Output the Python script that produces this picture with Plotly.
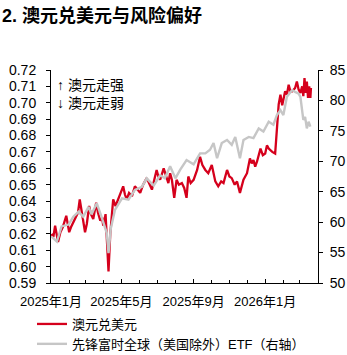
import plotly.graph_objects as go

# AUD/USD (left axis)
aud_dates = [
    "2025-01-02", "2025-01-05", "2025-01-08", "2025-01-11", "2025-01-13", "2025-01-17",
    "2025-01-21", "2025-01-27", "2025-01-29", "2025-02-01", "2025-02-04", "2025-02-08",
    "2025-02-12", "2025-02-16", "2025-02-19", "2025-02-22", "2025-02-25", "2025-02-28",
    "2025-03-03", "2025-03-07", "2025-03-10", "2025-03-14", "2025-03-17", "2025-03-19",
    "2025-03-22", "2025-03-26", "2025-03-29", "2025-03-31", "2025-04-04", "2025-04-06",
    "2025-04-09", "2025-04-12", "2025-04-14", "2025-04-17", "2025-04-21", "2025-04-26",
    "2025-04-30", "2025-05-04", "2025-05-07", "2025-05-10", "2025-05-14", "2025-05-19",
    "2025-05-24", "2025-05-28", "2025-06-02", "2025-06-07", "2025-06-13", "2025-06-17",
    "2025-06-22", "2025-06-26", "2025-06-30", "2025-07-03", "2025-07-06", "2025-07-12",
    "2025-07-16", "2025-07-20", "2025-07-23", "2025-07-26", "2025-07-30", "2025-08-03",
    "2025-08-07", "2025-08-12", "2025-08-16", "2025-08-20", "2025-08-23", "2025-08-27",
    "2025-09-01", "2025-09-04", "2025-09-07", "2025-09-12", "2025-09-16", "2025-09-21",
    "2025-09-26", "2025-10-02", "2025-10-05", "2025-10-08", "2025-10-13", "2025-10-18",
    "2025-10-22", "2025-10-28", "2025-11-01", "2025-11-05", "2025-11-10", "2025-11-14",
    "2025-11-19", "2025-11-25", "2025-12-01", "2025-12-06", "2025-12-09", "2025-12-12",
    "2025-12-15", "2025-12-18", "2025-12-24", "2025-12-28", "2026-01-01", "2026-01-04",
    "2026-01-07", "2026-01-13", "2026-01-18", "2026-01-21", "2026-01-24", "2026-01-27",
    "2026-01-30", "2026-02-04", "2026-02-07", "2026-02-10", "2026-02-13", "2026-02-16",
    "2026-02-21", "2026-02-24", "2026-02-27", "2026-03-02", "2026-03-05", "2026-03-07",
    "2026-03-09", "2026-03-11", "2026-03-13", "2026-03-15", "2026-03-17", "2026-03-19",
    "2026-03-20",
]
aud_usd = [
    0.620, 0.618, 0.625, 0.619, 0.615, 0.621,
    0.624, 0.631, 0.627, 0.621, 0.624, 0.627,
    0.629, 0.633, 0.641, 0.634, 0.627, 0.621,
    0.626, 0.637, 0.632, 0.629, 0.635, 0.639,
    0.633, 0.628, 0.630, 0.625, 0.632, 0.615,
    0.597, 0.620, 0.628, 0.641, 0.637, 0.642,
    0.646, 0.649, 0.644, 0.641, 0.645, 0.643,
    0.649, 0.647, 0.645, 0.650, 0.654, 0.651,
    0.647, 0.653, 0.659, 0.655, 0.653, 0.660,
    0.655, 0.651, 0.657, 0.653, 0.642, 0.653,
    0.650, 0.651, 0.648, 0.642, 0.655, 0.651,
    0.653, 0.656, 0.659, 0.667, 0.662, 0.659,
    0.657, 0.662, 0.657, 0.652, 0.649, 0.652,
    0.651, 0.659, 0.655, 0.654, 0.650, 0.652,
    0.645, 0.653, 0.657, 0.666, 0.663, 0.665,
    0.661, 0.664, 0.672, 0.668, 0.669, 0.674,
    0.672, 0.670, 0.669, 0.685, 0.699, 0.705,
    0.6985, 0.707, 0.705, 0.711, 0.707, 0.707,
    0.709, 0.713, 0.708, 0.706, 0.710, 0.704,
    0.715, 0.706, 0.713, 0.703, 0.710, 0.703,
    0.709,
]

# Vanguard FTSE All-World ex-US ETF (right axis)
etf_dates = [
    "2025-01-02", "2025-01-11", "2025-01-19", "2025-01-31", "2025-02-08", "2025-02-17",
    "2025-02-25", "2025-03-06", "2025-03-11", "2025-03-20", "2025-03-28", "2025-04-06",
    "2025-04-09", "2025-04-13", "2025-04-20", "2025-05-02", "2025-05-13", "2025-05-24",
    "2025-06-05", "2025-06-13", "2025-06-25", "2025-07-06", "2025-07-14", "2025-07-23",
    "2025-08-01", "2025-08-09", "2025-08-20", "2025-09-01", "2025-09-12", "2025-09-21",
    "2025-09-29", "2025-10-05", "2025-10-11", "2025-10-19", "2025-10-28", "2025-11-05",
    "2025-11-11", "2025-11-19", "2025-11-25", "2025-12-04", "2025-12-12", "2025-12-21",
    "2025-12-29", "2026-01-07", "2026-01-15", "2026-01-21", "2026-01-27", "2026-02-01",
    "2026-02-07", "2026-02-16", "2026-02-21", "2026-02-27", "2026-03-02", "2026-03-05",
    "2026-03-07", "2026-03-10", "2026-03-13", "2026-03-16", "2026-03-19",
]
etf_price = [
    57.6, 56.8, 59.3, 59.6, 60.9, 61.7,
    60.9, 62.5, 61.3, 63.1, 60.9, 58.2,
    54.9, 59.0, 62.0, 63.9, 63.7, 65.3,
    65.8, 67.2, 66.0, 67.7, 67.2, 69.2,
    67.2, 68.6, 70.2, 69.5, 71.3, 71.3,
    71.9, 73.0, 70.5, 73.0, 73.5, 72.7,
    74.0, 70.5, 73.5, 74.0, 73.8, 75.4,
    74.9, 76.5, 76.0, 77.6, 78.4, 77.6,
    80.6, 81.7, 81.4, 81.1, 80.6, 78.2,
    76.8, 77.3, 75.4, 76.5, 75.7,
]

x_tick_vals = ["2025-01-01", "2025-05-01", "2025-09-01", "2026-01-01"]
x_tick_text = ["2025年1月", "2025年5月", "2025年9月", "2026年1月"]
left_ticks = [0.59, 0.60, 0.61, 0.62, 0.63, 0.64, 0.65, 0.66, 0.67, 0.68, 0.69, 0.70, 0.71, 0.72]
right_ticks = [50, 55, 60, 65, 70, 75, 80, 85]

FONT = "Liberation Sans, Arial, Noto Sans CJK SC, sans-serif"
RED = "#d5001c"
GREY = "#c6c6c6"

PLOT_W = 347 - 51 - 29
PLOT_H = 355 - 70 - 72

fig = go.Figure()
fig.add_trace(go.Scatter(
    x=aud_dates, y=aud_usd, name="澳元兑美元", mode="lines",
    line=dict(color=RED, width=2.3), yaxis="y",
))
fig.add_trace(go.Scatter(
    x=etf_dates, y=etf_price, name="先锋富时全球（美国除外）ETF（右轴）", mode="lines",
    line=dict(color=GREY, width=2.4), yaxis="y2",
))

fig.update_layout(
    width=347, height=355,
    margin=dict(l=51, r=29, t=70, b=72, autoexpand=False),
    paper_bgcolor="white", plot_bgcolor="white",
    font=dict(family=FONT, size=13, color="#000000"),
    showlegend=True,
    legend=dict(
        x=-19 / PLOT_W, y=-26 / PLOT_H, xanchor="left", yanchor="top",
        orientation="v", font=dict(size=13, color="#000000"),
        bgcolor="rgba(0,0,0,0)", itemwidth=30, tracegroupgap=0,
    ),
    xaxis=dict(
        type="date", range=["2025-01-01", "2026-04-01"],
        tickmode="array", tickvals=x_tick_vals, ticktext=x_tick_text,
        ticks="inside", ticklen=4, tickcolor="#000", tickwidth=1,
        minor=dict(dtick="M1", ticks="inside", ticklen=3, tickcolor="#000", tick0="2025-01-01"),
        showline=True, linecolor="#000", linewidth=1,
        showgrid=False, zeroline=False,
        tickfont=dict(size=13), ticklabelstandoff=6,
    ),
    yaxis=dict(
        range=[0.59, 0.72], tickmode="array", tickvals=left_ticks,
        ticktext=[f"{v:.2f}" for v in left_ticks],
        ticks="outside", ticklen=4, tickcolor="#000",
        showline=True, linecolor="#000", linewidth=1,
        showgrid=False, zeroline=False, tickfont=dict(size=14),
        ticklabelstandoff=7,
    ),
    yaxis2=dict(
        range=[50, 85], overlaying="y", side="right",
        tickmode="array", tickvals=right_ticks,
        ticks="outside", ticklen=4, tickcolor="#000",
        showline=True, linecolor="#000", linewidth=1,
        showgrid=False, zeroline=False, tickfont=dict(size=14),
        ticklabelstandoff=4,
    ),
    annotations=[
        dict(text="<b>2. 澳元兑美元与风险偏好</b>", xref="paper", yref="paper",
             x=-51 / PLOT_W, y=1 + 55 / PLOT_H, xanchor="left", yanchor="middle",
             showarrow=False, font=dict(size=18, color="#000")),
        dict(text="↑ 澳元走强", xref="paper", yref="paper",
             x=4 / PLOT_W, y=1 - 15 / PLOT_H, xanchor="left", yanchor="middle",
             showarrow=False, font=dict(size=14, color="#000")),
        dict(text="↓ 澳元走弱", xref="paper", yref="paper",
             x=4 / PLOT_W, y=1 - 33 / PLOT_H, xanchor="left", yanchor="middle",
             showarrow=False, font=dict(size=14, color="#000")),
    ],
)

fig.write_html("out.html")
